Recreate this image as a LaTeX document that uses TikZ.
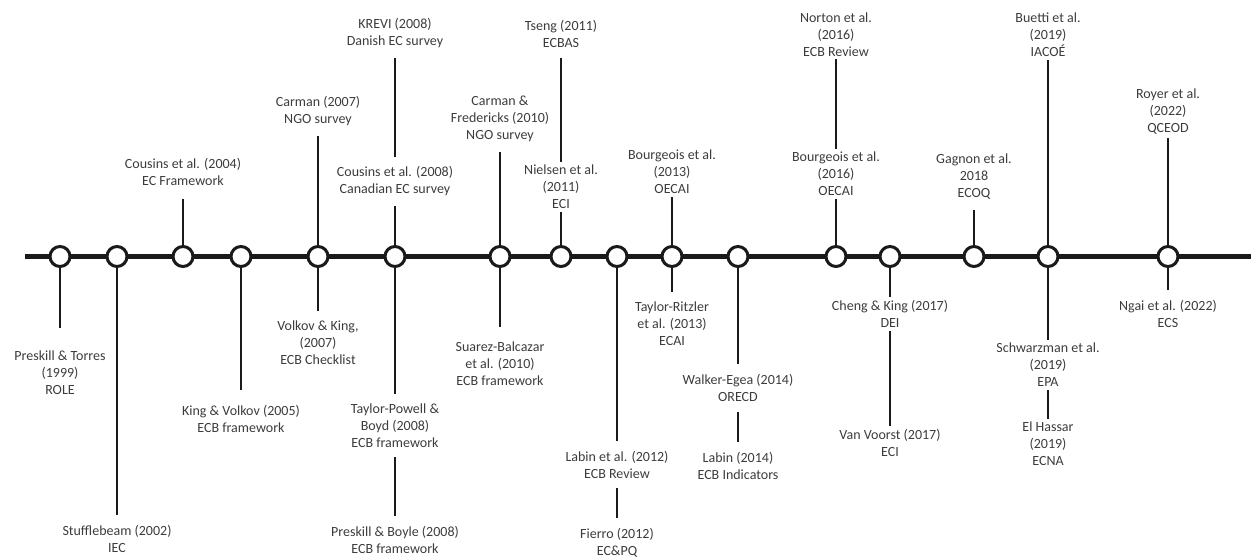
\documentclass[tikz,border=0pt]{standalone}
\usepackage{fontspec}
\setmainfont{Carlito}
\definecolor{ink}{HTML}{1A1A1A}
\definecolor{txt}{HTML}{3C3C3C}
\tikzset{
  dot/.style={circle, draw=ink, line width=3pt, fill=white, minimum size=20pt, inner sep=0pt, outer sep=0pt},
  lbl/.style={align=center, text=txt, inner sep=0pt, outer sep=10pt, font=\fontsize{14}{17}\selectfont},
  lblr/.style={lbl, outer sep=3pt},
  stem/.style={draw=ink, line width=2pt},
  axis/.style={draw=ink, line width=5.5pt}
}
\begin{document}
\begin{tikzpicture}[x=1pt, y=-1pt]
  \useasboundingbox (0,0) rectangle (1251,557);
  \coordinate (T0) at (25,256.5);
  \coordinate (T1) at (1251,256.5);
  \draw[axis] (T0) -- (T1);
  \foreach \n/\x in {1/60, 2/117, 3/183, 4/241, 5/318, 6/395, 7/500, 8/561,
                     9/617, 10/672, 11/738, 12/836, 13/890, 14/974, 15/1048, 16/1168}
    \node[dot] (P\n) at (\x,256.5) {};

  % labels above and below the line
  \node[lbl] (L1)  at (60,373)    {Preskill \& Torres\\(1999)\\ROLE};
  \node[lbl] (L2)  at (117,539)   {Stufflebeam (2002)\\IEC};
  \node[lbl] (L3)  at (183,171.5) {Cousins et al. (2004)\\EC Framework};
  \node[lbl] (L4)  at (241,418.5) {King \& Volkov (2005)\\ECB framework};
  \node[lbl] (L5a) at (318,111.5) {Carman (2007)\\NGO survey};
  \node[lbl] (L5b) at (318,343)   {Volkov \& King,\\(2007)\\ECB Checklist};
  \node[lbl] (L6a) at (395,33)    {KREVI (2008)\\Danish EC survey};
  \node[lbl] (L6b) at (395,181.5) {Cousins et al. (2008)\\Canadian EC survey};
  \node[lbl] (L6c) at (395,425.5) {Taylor-Powell \&\\Boyd (2008)\\ECB framework};
  \node[lbl] (L6d) at (395,539.5) {Preskill \& Boyle (2008)\\ECB framework};
  \node[lbl] (L7a) at (500,119)   {Carman \&\\Fredericks (2010)\\NGO survey};
  \node[lbl] (L7b) at (500,364)   {Suarez-Balcazar\\et al. (2010)\\ECB framework};
  \node[lbl] (L8a) at (561,34)    {Tseng (2011)\\ECBAS};
  \node[lblr] (L8b) at (561,187)  {Nielsen et al.\\(2011)\\ECI};
  \node[lbl] (L9a) at (617,464.5) {Labin et al. (2012)\\ECB Review};
  \node[lbl] (L9b) at (617,542.5) {Fierro (2012)\\EC\&PQ};
  \node[lblr] (L10a) at (672,172) {Bourgeois et al.\\(2013)\\OECAI};
  \node[lbl] (L10b) at (672,324)  {Taylor-Ritzler\\et al. (2013)\\ECAI};
  \node[lbl] (L11a) at (738,388)  {Walker-Egea (2014)\\ORECD};
  \node[lbl] (L11b) at (738,465.5) {Labin (2014)\\ECB Indicators};
  \node[lblr] (L12a) at (836,34.5) {Norton et al.\\(2016)\\ECB Review};
  \node[lblr] (L12b) at (836,174)  {Bourgeois et al.\\(2016)\\OECAI};
  \node[lblr] (L13a) at (890,314)  {Cheng \& King (2017)\\DEI};
  \node[lblr] (L13b) at (890,443)  {Van Voorst (2017)\\ECI};
  \node[lbl] (L14)  at (974,177)   {Gagnon et al.\\2018\\ECOQ};
  \node[lblr] (L15a) at (1048,35)  {Buetti et al.\\(2019)\\IACOÉ};
  \node[lblr] (L15b) at (1048,365) {Schwarzman et al.\\(2019)\\EPA};
  \node[lblr] (L15c) at (1048,444) {El Hassar\\(2019)\\ECNA};
  \node[lblr] (L16a) at (1168,112) {Royer et al.\\(2022)\\QCEOD};
  \node[lbl] (L16b) at (1168,313.5) {Ngai et al. (2022)\\ECS};

  % stems
  \draw[stem, shorten >=13pt] (P1) -- (L1);
  \draw[stem] (P2) -- (L2);
  \draw[stem, shorten >=4pt] (P3) -- (L3);
  \draw[stem, shorten >=5pt] (P4) -- (L4);
  \draw[stem] (P5) -- (L5a);
  \draw[stem] (P5) -- (L5b);
  \draw[stem] (L6a) -- (L6b);
  \draw[stem] (P6) -- (L6b);
  \draw[stem] (P6) -- (L6c);
  \draw[stem] (L6c) -- (L6d);
  \draw[stem] (P7) -- (L7a);
  \draw[stem, shorten >=5pt] (P7) -- (L7b);
  \draw[stem] (L8a) -- (L8b);
  \draw[stem] (P8) -- (L8b);
  \draw[stem] (P9) -- (L9a);
  \draw[stem] (L9a) -- (L9b);
  \draw[stem] (P10) -- (L10a);
  \draw[stem] (P10) -- (L10b);
  \draw[stem] (P11) -- (L11a);
  \draw[stem] (L11a) -- (L11b);
  \draw[stem] (L12a) -- (L12b);
  \draw[stem] (P12) -- (L12b);
  \draw[stem] (P13) -- (L13a);
  \draw[stem] (L13a) -- (L13b);
  \draw[stem] (P14) -- (L14);
  \draw[stem] (P15) -- (L15a);
  \draw[stem] (P15) -- (L15b);
  \draw[stem] (L15b) -- (L15c);
  \draw[stem] (P16) -- (L16a);
  \draw[stem] (P16) -- (L16b);
\end{tikzpicture}
\end{document}
